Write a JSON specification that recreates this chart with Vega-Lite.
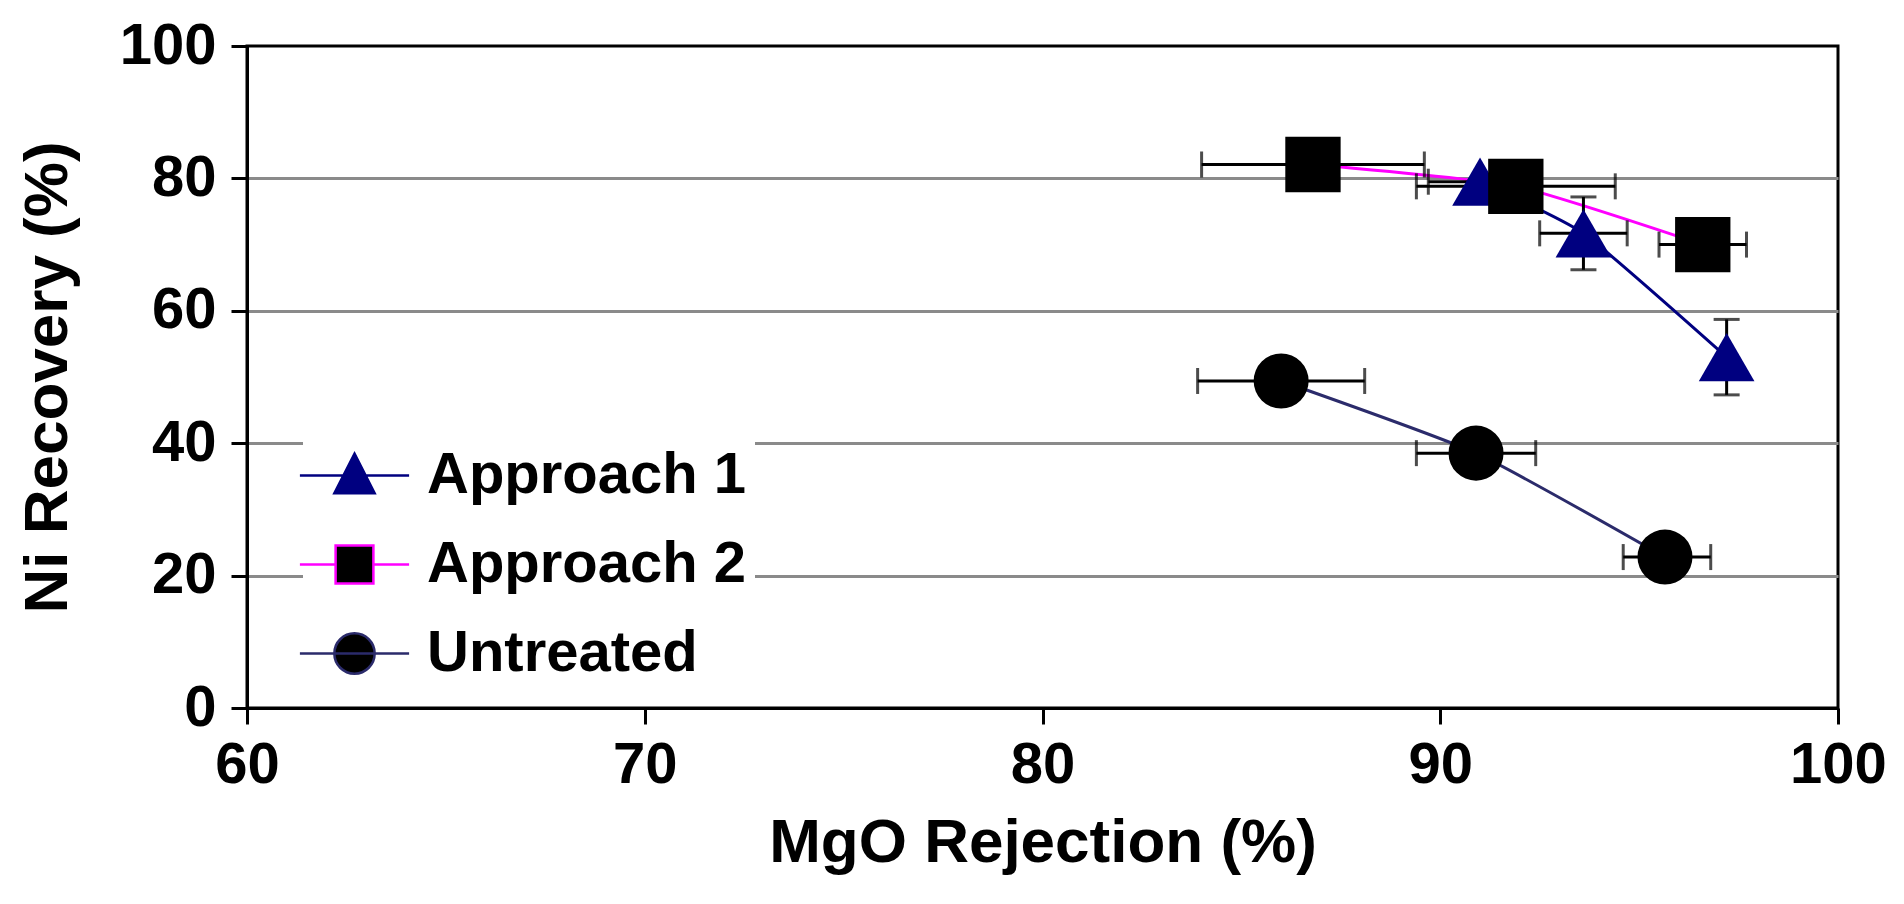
{
  "$schema": "https://vega.github.io/schema/vega-lite/v6.json",
  "description": "Ni recovery vs MgO rejection",
  "width": 1591,
  "height": 662,
  "autosize": {"type": "none"},
  "padding": {"left": 247, "top": 46, "right": 66, "bottom": 196},
  "background": "white",
  "config": {
    "font": "Liberation Sans",
    "view": {"stroke": "black", "strokeWidth": 3},
    "axis": {
      "labelFont": "Liberation Sans",
      "labelFontWeight": "bold",
      "labelFontSize": 58,
      "labelColor": "black",
      "labelFlush": false,
      "titleFont": "Liberation Sans",
      "titleFontWeight": "bold",
      "titleFontSize": 62,
      "titleColor": "black",
      "domainColor": "black",
      "domainWidth": 3,
      "tickColor": "black",
      "tickWidth": 3,
      "tickSize": 16
    }
  },
  "data": {
    "values": [
      {"series": "Approach 1", "mgo": 91.0, "ni": 79.5, "mgo_lo": 89.7, "mgo_hi": 92.3, "ni_lo": null, "ni_hi": null},
      {"series": "Approach 1", "mgo": 93.6, "ni": 71.7, "mgo_lo": 92.5, "mgo_hi": 94.7, "ni_lo": 66.2, "ni_hi": 77.2},
      {"series": "Approach 1", "mgo": 97.2, "ni": 53.0, "mgo_lo": null, "mgo_hi": null, "ni_lo": 47.3, "ni_hi": 58.7},
      {"series": "Approach 2", "mgo": 86.8, "ni": 82.1, "mgo_lo": 84.0, "mgo_hi": 89.6, "ni_lo": null, "ni_hi": null},
      {"series": "Approach 2", "mgo": 91.9, "ni": 78.8, "mgo_lo": 89.4, "mgo_hi": 94.4, "ni_lo": null, "ni_hi": null},
      {"series": "Approach 2", "mgo": 96.6, "ni": 70.0, "mgo_lo": 95.5, "mgo_hi": 97.7, "ni_lo": null, "ni_hi": null},
      {"series": "Untreated", "mgo": 86.0, "ni": 49.4, "mgo_lo": 83.9, "mgo_hi": 88.1, "ni_lo": null, "ni_hi": null},
      {"series": "Untreated", "mgo": 90.9, "ni": 38.5, "mgo_lo": 89.4, "mgo_hi": 92.4, "ni_lo": null, "ni_hi": null},
      {"series": "Untreated", "mgo": 95.65, "ni": 22.8, "mgo_lo": 94.6, "mgo_hi": 96.8, "ni_lo": null, "ni_hi": null}
    ]
  },
  "layer": [
    {
      "mark": {"type": "line", "interpolate": "cardinal", "tension": 0.5, "strokeWidth": 3},
      "encoding": {
        "x": {
          "field": "mgo",
          "type": "quantitative",
          "title": "MgO Rejection (%)",
          "scale": {"domain": [60, 100], "nice": false, "zero": false},
          "axis": {"values": [60, 70, 80, 90, 100], "grid": false, "labelPadding": 12, "titlePadding": 18}
        },
        "y": {
          "field": "ni",
          "type": "quantitative",
          "title": "Ni Recovery (%)",
          "scale": {"domain": [0, 100], "nice": false},
          "axis": {
            "values": [0, 20, 40, 60, 80, 100],
            "grid": true,
            "gridColor": "#8a8a8a",
            "gridWidth": 3,
            "gridOpacity": {"condition": {"test": "datum.value === 0 || datum.value === 100", "value": 0}, "value": 1},
            "labelPadding": 15,
            "titlePadding": 40
          }
        },
        "stroke": {
          "field": "series",
          "type": "nominal",
          "scale": {"domain": ["Approach 1", "Approach 2", "Untreated"], "range": ["#000080", "#ff00ff", "#2b2b6b"]},
          "legend": null
        }
      }
    },
    {
      "transform": [{"filter": "isValid(datum.mgo_lo)"}],
      "mark": {"type": "errorbar", "color": "black", "rule": {"strokeWidth": 3}, "ticks": {"size": 26, "thickness": 3, "color": "black"}},
      "encoding": {
        "x": {"field": "mgo_lo", "type": "quantitative", "title": "MgO Rejection (%)"},
        "x2": {"field": "mgo_hi"},
        "y": {"field": "ni", "type": "quantitative", "title": "Ni Recovery (%)"}
      }
    },
    {
      "transform": [{"filter": "isValid(datum.ni_lo)"}],
      "mark": {"type": "errorbar", "color": "black", "rule": {"strokeWidth": 3}, "ticks": {"size": 26, "thickness": 3, "color": "black"}},
      "encoding": {
        "y": {"field": "ni_lo", "type": "quantitative", "title": "Ni Recovery (%)"},
        "y2": {"field": "ni_hi"},
        "x": {"field": "mgo", "type": "quantitative", "title": "MgO Rejection (%)"}
      }
    },
    {
      "mark": {"type": "point", "filled": true, "opacity": 1, "strokeWidth": 0},
      "encoding": {
        "x": {"field": "mgo", "type": "quantitative", "title": "MgO Rejection (%)"},
        "y": {"field": "ni", "type": "quantitative", "title": "Ni Recovery (%)"},
        "shape": {
          "field": "series",
          "type": "nominal",
          "scale": {"domain": ["Approach 1", "Approach 2", "Untreated"], "range": ["triangle-up", "square", "circle"]},
          "legend": null
        },
        "fill": {
          "field": "series",
          "type": "nominal",
          "scale": {"domain": ["Approach 1", "Approach 2", "Untreated"], "range": ["#000080", "#000000", "#000000"]},
          "legend": null
        },
        "size": {
          "field": "series",
          "type": "nominal",
          "scale": {"domain": ["Approach 1", "Approach 2", "Untreated"], "range": [3100, 3025, 2450]},
          "legend": null
        }
      }
    },
    {
      "transform": [{"filter": "false"}],
      "mark": {"type": "point", "filled": true, "opacity": 1, "strokeWidth": 2.5, "size": 7056},
      "encoding": {
        "x": {"field": "mgo", "type": "quantitative", "title": "MgO Rejection (%)"},
        "y": {"field": "ni", "type": "quantitative", "title": "Ni Recovery (%)"},
        "shape": {
          "field": "series",
          "type": "nominal",
          "scale": {
            "domain": ["Approach 1", "Approach 2", "Untreated"],
            "range": [
              "M-1.3,0H1.3M0,-0.52L0.48,0.42L-0.48,0.42Z",
              "M-1.3,0H-0.45M0.45,0H1.3M-0.45,-0.45H0.45V0.45H-0.45Z",
              "M-1.3,0H1.3M-0.48,0A0.48,0.48,0,1,0,0.48,0A0.48,0.48,0,1,0,-0.48,0Z"
            ]
          },
          "legend": {
            "title": null,
            "orient": "none",
            "legendX": 56,
            "legendY": 378,
            "padding": 8,
            "fillColor": "white",
            "labelFont": "Liberation Sans",
            "labelFontWeight": "bold",
            "labelFontSize": 58,
            "labelColor": "black",
            "labelLimit": 0,
            "labelOffset": 29,
            "symbolSize": 7056,
            "symbolStrokeWidth": 2.5,
            "rowPadding": 16
          }
        },
        "fill": {
          "field": "series",
          "type": "nominal",
          "scale": {"domain": ["Approach 1", "Approach 2", "Untreated"], "range": ["#000080", "#000000", "#000000"]}
        },
        "stroke": {
          "field": "series",
          "type": "nominal",
          "scale": {"domain": ["Approach 1", "Approach 2", "Untreated"], "range": ["#000080", "#ff00ff", "#2b2b6b"]}
        }
      }
    }
  ],
  "resolve": {"scale": {"shape": "independent", "fill": "independent", "stroke": "independent", "size": "independent"}}
}
